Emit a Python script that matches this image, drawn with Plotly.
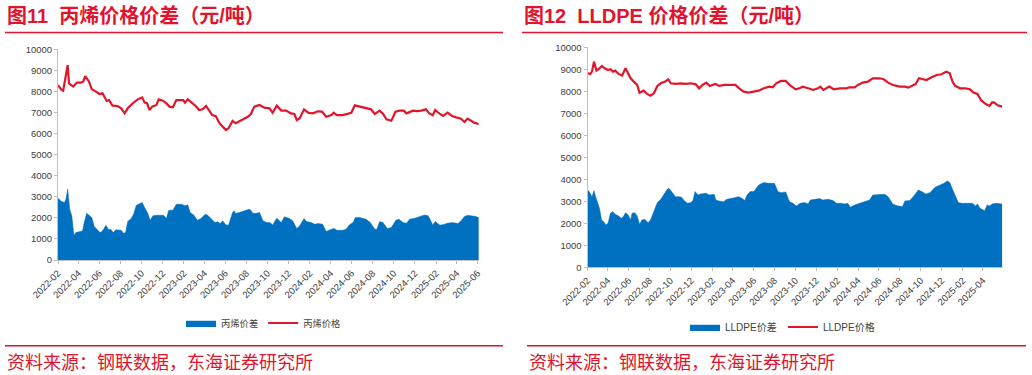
import plotly.graph_objects as go

# ---------------- data ----------------
# Figure 11: propylene price and spread (yuan/ton)
L_price_dates = [
    "2022-02-01", "2022-02-10", "2022-02-16", "2022-02-22", "2022-03-01", "2022-03-05", "2022-03-17",
    "2022-03-28", "2022-04-08", "2022-04-15", "2022-04-21", "2022-05-02", "2022-05-10", "2022-05-22",
    "2022-06-01", "2022-06-10", "2022-06-22", "2022-06-29", "2022-07-09", "2022-07-24", "2022-08-03",
    "2022-08-13", "2022-08-22", "2022-09-06", "2022-09-20", "2022-10-03", "2022-10-10", "2022-10-17",
    "2022-10-24", "2022-11-01", "2022-11-13", "2022-11-20", "2022-12-02", "2022-12-12", "2022-12-21",
    "2022-12-31", "2023-01-10", "2023-01-30", "2023-02-04", "2023-02-12", "2023-02-26", "2023-03-07",
    "2023-03-17", "2023-03-27", "2023-04-06", "2023-04-15", "2023-04-24", "2023-05-04", "2023-05-14",
    "2023-05-24", "2023-06-03", "2023-06-10", "2023-06-22", "2023-07-01", "2023-07-11", "2023-07-21",
    "2023-08-05", "2023-08-14", "2023-08-24", "2023-09-08", "2023-09-22", "2023-10-07", "2023-10-16",
    "2023-10-28", "2023-11-10", "2023-11-24", "2023-12-08", "2023-12-18", "2023-12-25", "2024-01-02",
    "2024-01-15", "2024-01-27", "2024-02-10", "2024-02-24", "2024-03-07", "2024-03-19", "2024-04-03",
    "2024-04-10", "2024-04-19", "2024-05-06", "2024-05-21", "2024-05-31", "2024-06-10", "2024-06-24",
    "2024-07-13", "2024-07-27", "2024-08-07", "2024-08-21", "2024-08-31", "2024-09-10", "2024-09-24",
    "2024-10-06", "2024-10-18", "2024-10-30", "2024-11-07", "2024-11-26", "2024-12-06", "2024-12-20",
    "2025-01-02", "2025-01-12", "2025-01-22", "2025-01-29", "2025-02-12", "2025-02-21", "2025-03-06",
    "2025-03-19", "2025-03-31", "2025-04-14", "2025-04-24", "2025-05-03", "2025-05-13", "2025-05-22",
    "2025-06-04",
]
L_price = [
    8300, 8100, 8040, 8700, 9256, 8385, 8230,
    8420, 8420, 8460, 8730, 8460, 8100, 7990,
    7880, 7910, 7550, 7590, 7325, 7310, 7200,
    6960, 7200, 7440, 7625, 7720, 7470, 7440,
    7120, 7280, 7360, 7625, 7560, 7440, 7280,
    7250, 7590, 7590, 7470, 7625, 7440, 7310,
    7120, 7150, 7310, 7120, 6880, 6830, 6520,
    6330, 6170, 6250, 6600, 6490, 6570, 6680,
    6800, 6930, 7280, 7360, 7230, 7200, 6990,
    7325, 7090, 7090, 6960, 6930, 6640, 6720,
    7150, 6990, 6960, 7055, 7040, 6800, 6880,
    6990, 6880, 6880, 6930, 6990, 7340, 7280,
    7230, 7150, 6930, 7090, 6930, 6680, 6610,
    7040, 7090, 7090, 6960, 7090, 7070, 7090,
    7150, 6960, 6870, 7120, 6930, 6834, 6990,
    6834, 6770, 6710, 6550, 6710, 6610, 6520,
    6455,
]
L_spread_dates = [
    "2022-02-01", "2022-02-11", "2022-02-20", "2022-02-24", "2022-03-01", "2022-03-07", "2022-03-13",
    "2022-03-19", "2022-03-25", "2022-04-04", "2022-04-13", "2022-04-18", "2022-04-25", "2022-05-02",
    "2022-05-10", "2022-05-17", "2022-05-27", "2022-06-03", "2022-06-10", "2022-06-20", "2022-06-28",
    "2022-07-04", "2022-07-11", "2022-07-19", "2022-08-03", "2022-08-10", "2022-08-16", "2022-08-22",
    "2022-09-01", "2022-09-08", "2022-09-16", "2022-09-25", "2022-10-03", "2022-10-10", "2022-10-19",
    "2022-10-26", "2022-11-03", "2022-11-13", "2022-11-22", "2022-12-04", "2022-12-12", "2022-12-19",
    "2022-12-31", "2023-01-10", "2023-01-25", "2023-02-04", "2023-02-12", "2023-02-19", "2023-03-02",
    "2023-03-12", "2023-03-22", "2023-04-04", "2023-04-10", "2023-04-24", "2023-05-02", "2023-05-09",
    "2023-05-17", "2023-05-24", "2023-06-03", "2023-06-10", "2023-06-22", "2023-06-26", "2023-07-01",
    "2023-07-11", "2023-07-25", "2023-08-09", "2023-08-14", "2023-08-19", "2023-08-29", "2023-09-08",
    "2023-09-18", "2023-09-29", "2023-10-08", "2023-10-16", "2023-10-28", "2023-11-10", "2023-11-19",
    "2023-12-04", "2023-12-13", "2023-12-25", "2024-01-02", "2024-01-15", "2024-01-22", "2024-02-05",
    "2024-02-15", "2024-02-24", "2024-03-09", "2024-03-19", "2024-04-03", "2024-04-12", "2024-04-19",
    "2024-05-06", "2024-05-16", "2024-05-25", "2024-06-05", "2024-06-12", "2024-06-24", "2024-07-13",
    "2024-07-25", "2024-08-07", "2024-08-13", "2024-08-21", "2024-08-31", "2024-09-12", "2024-09-24",
    "2024-10-07", "2024-10-16", "2024-10-28", "2024-11-07", "2024-11-16", "2024-12-01", "2024-12-15",
    "2024-12-29", "2025-01-09", "2025-01-22", "2025-01-29", "2025-02-12", "2025-02-25", "2025-03-06",
    "2025-03-20", "2025-04-05", "2025-04-14", "2025-04-24", "2025-05-03", "2025-05-18", "2025-05-27",
    "2025-06-04",
]
L_spread = [
    2936, 2777, 2730, 2890, 3365, 2412, 2095,
    1175, 1300, 1350, 1380, 1777, 2220, 2125,
    2015, 1587, 1430, 1300, 1380, 1650, 1430,
    1460, 1300, 1430, 1415, 1270, 1300, 1825,
    1968, 2175, 2600, 2680, 2730, 2490, 2220,
    1888, 2095, 2125, 2140, 2125, 1968, 2365,
    2365, 2650, 2650, 2570, 2620, 2255, 2125,
    1888, 1968, 2175, 2140, 1936, 1777, 1810,
    1730, 1857, 1666, 1650, 2255, 2333, 2205,
    2255, 2333, 2412, 2365, 2220, 2220, 2255,
    1857, 1777, 1777, 1666, 1984, 1777, 2047,
    1968, 1857, 1492, 1619, 1968, 1825, 1777,
    1698, 1730, 1698, 1350, 1460, 1492, 1412,
    1412, 1460, 1666, 1777, 2015, 2015, 1936,
    1777, 1460, 1460, 1825, 1777, 1492, 1539,
    1888, 1936, 1777, 1746, 1936, 1984, 2047,
    2140, 2095, 1666, 1825, 1650, 1698, 1746,
    1777, 1730, 1857, 2063, 2125, 2095, 2063,
    2015,
]

# Figure 12: LLDPE price and spread (yuan/ton)
R_price_dates = [
    "2022-02-01", "2022-02-09", "2022-02-14", "2022-02-20", "2022-02-27", "2022-03-05", "2022-03-15",
    "2022-03-23", "2022-04-02", "2022-04-09", "2022-04-16", "2022-04-23", "2022-05-03", "2022-05-13",
    "2022-05-23", "2022-05-31", "2022-06-07", "2022-06-16", "2022-06-26", "2022-07-03", "2022-07-15",
    "2022-07-25", "2022-08-04", "2022-08-14", "2022-08-24", "2022-09-03", "2022-09-16", "2022-09-25",
    "2022-10-02", "2022-10-16", "2022-10-31", "2022-11-15", "2022-11-30", "2022-12-14", "2022-12-24",
    "2023-01-03", "2023-01-14", "2023-01-24", "2023-02-09", "2023-02-21", "2023-03-08", "2023-03-25",
    "2023-04-09", "2023-04-20", "2023-05-03", "2023-05-17", "2023-06-02", "2023-06-16", "2023-07-01",
    "2023-07-17", "2023-07-27", "2023-08-06", "2023-08-20", "2023-09-03", "2023-09-14", "2023-10-02",
    "2023-10-13", "2023-10-23", "2023-11-07", "2023-11-22", "2023-12-06", "2023-12-13", "2023-12-22",
    "2024-01-08", "2024-01-21", "2024-02-08", "2024-02-27", "2024-03-07", "2024-03-22", "2024-04-01",
    "2024-04-15", "2024-04-30", "2024-05-14", "2024-06-03", "2024-06-15", "2024-06-28", "2024-07-12",
    "2024-08-01", "2024-08-16", "2024-08-26", "2024-09-10", "2024-09-16", "2024-09-26", "2024-10-06",
    "2024-10-18", "2024-11-02", "2024-11-17", "2024-12-01", "2024-12-15", "2024-12-25", "2025-01-02",
    "2025-01-09", "2025-01-24", "2025-02-08", "2025-02-22", "2025-03-04", "2025-03-16", "2025-03-26",
    "2025-04-09", "2025-04-20", "2025-04-28", "2025-05-04", "2025-05-14", "2025-05-27",
]
R_price = [
    8818, 8788, 8894, 9349, 8940, 9000, 9152,
    9045, 8970, 9000, 8894, 8940, 8788, 8712,
    9045, 8818, 8591, 8440, 8288, 7940, 8030,
    7879, 7803, 7909, 8243, 8364, 8440, 8546,
    8364, 8334, 8364, 8334, 8364, 8318, 8137,
    8288, 8394, 8243, 8334, 8243, 8288, 8288,
    8288, 8137, 7985, 7940, 7985, 8030, 8137,
    8212, 8182, 8364, 8470, 8470, 8288, 8091,
    8137, 8212, 8137, 8061, 8137, 8212, 8061,
    8212, 8091, 8137, 8137, 8182, 8182, 8288,
    8394, 8440, 8591, 8591, 8546, 8394, 8288,
    8212, 8212, 8167, 8288, 8318, 8591, 8546,
    8515, 8637, 8743, 8773, 8894, 8818, 8440,
    8258, 8137, 8137, 8091, 7940, 7879, 7606,
    7424, 7334, 7500, 7485, 7364, 7303,
]
R_spread_dates = [
    "2022-02-01", "2022-02-06", "2022-02-14", "2022-02-20", "2022-02-24", "2022-03-04", "2022-03-08",
    "2022-03-14", "2022-03-20", "2022-03-27", "2022-04-02", "2022-04-09", "2022-04-16", "2022-04-23",
    "2022-05-03", "2022-05-11", "2022-05-18", "2022-05-23", "2022-05-31", "2022-06-07", "2022-06-11",
    "2022-06-19", "2022-06-26", "2022-07-03", "2022-07-10", "2022-07-18", "2022-07-28", "2022-08-04",
    "2022-08-14", "2022-08-24", "2022-09-03", "2022-09-13", "2022-09-22", "2022-09-27", "2022-10-07",
    "2022-10-16", "2022-10-26", "2022-11-03", "2022-11-10", "2022-11-20", "2022-11-30", "2022-12-06",
    "2022-12-12", "2022-12-21", "2022-12-28", "2023-01-05", "2023-01-14", "2023-01-22", "2023-01-30",
    "2023-02-06", "2023-02-11", "2023-02-20", "2023-03-05", "2023-03-15", "2023-03-30", "2023-04-09",
    "2023-04-18", "2023-04-28", "2023-05-06", "2023-05-13", "2023-05-22", "2023-06-02", "2023-06-08",
    "2023-06-16", "2023-07-01", "2023-07-15", "2023-08-01", "2023-08-11", "2023-08-20", "2023-09-03",
    "2023-09-14", "2023-09-24", "2023-10-04", "2023-10-15", "2023-10-28", "2023-11-07", "2023-11-14",
    "2023-11-26", "2023-12-11", "2023-12-20", "2024-01-05", "2024-01-19", "2024-01-29", "2024-02-13",
    "2024-02-22", "2024-03-02", "2024-03-10", "2024-03-22", "2024-04-06", "2024-04-20", "2024-05-05",
    "2024-05-14", "2024-05-24", "2024-06-08", "2024-06-18", "2024-06-28", "2024-07-12", "2024-07-27",
    "2024-08-09", "2024-08-16", "2024-08-30", "2024-09-11", "2024-09-24", "2024-10-04", "2024-10-16",
    "2024-10-28", "2024-11-12", "2024-11-27", "2024-12-08", "2024-12-18", "2024-12-25", "2025-01-02",
    "2025-01-12", "2025-01-19", "2025-01-29", "2025-02-13", "2025-02-22", "2025-03-02", "2025-03-10",
    "2025-03-16", "2025-03-23", "2025-04-06", "2025-04-13", "2025-04-20", "2025-04-28", "2025-05-09",
    "2025-05-27",
]
R_spread = [
    3515, 3440, 3212, 3485, 3243, 2879, 2682,
    2152, 2076, 1925, 2000, 2455, 2530, 2410,
    2334, 2228, 2334, 2485, 2379, 2152, 2455,
    2485, 2334, 1955, 2152, 2182, 2030, 2152,
    2530, 2940, 3091, 3364, 3546, 3591, 3364,
    3212, 3212, 3182, 3031, 2910, 2940, 3031,
    3440, 3288, 3334, 3364, 3364, 3288, 3288,
    3318, 3061, 3015, 2985, 3091, 3137, 3182,
    3212, 3137, 3031, 3288, 3440, 3440, 3591,
    3743, 3849, 3818, 3818, 3440, 3394, 3424,
    2985, 2910, 2788, 2910, 2940, 2879, 3061,
    3091, 3122, 3061, 3091, 3031, 2910, 2910,
    2879, 2910, 2728, 2834, 2910, 2985, 3061,
    3288, 3303, 3334, 3318, 3212, 2864, 2788,
    2758, 3015, 3031, 3243, 3515, 3440, 3334,
    3394, 3637, 3743, 3818, 3925, 3849, 3546,
    3182, 2940, 2910, 2910, 2879, 2910, 2788,
    2879, 2682, 2576, 2834, 2788, 2879, 2910,
    2879,
]

title_left = "图11  丙烯价格价差（元/吨）"
title_right = "图12  LLDPE 价格价差（元/吨）"
source_text = "资料来源：钢联数据，东海证券研究所"
names_left = ["丙烯价差", "丙烯价格"]
names_right = ["LLDPE价差", "LLDPE价格"]
y_ticks = list(range(0, 10001, 1000))
y_ticklabels = [str(v) for v in y_ticks]

# ---------------- style ----------------
W, H = 1032, 375
RED = "#E2142D"
LINE_RED = "#E0162B"
BLUE = "#0070C0"
AX = "#BFBFBF"
TXT = "#404040"
FONT = "Liberation Sans, Arial, Noto Sans CJK SC, sans-serif"
CJK = "Noto Sans CJK SC, sans-serif"

def px_x(p):
    return p / W

def px_y(p):
    return 1 - p / H

fig = go.Figure()

fig.add_trace(go.Scatter(x=L_spread_dates, y=L_spread, name=names_left[0], mode="lines",
                         line=dict(color=BLUE, width=0.5), fill="tozeroy", fillcolor=BLUE,
                         xaxis="x", yaxis="y", legend="legend"))
fig.add_trace(go.Scatter(x=L_price_dates, y=L_price, name=names_left[1], mode="lines",
                         line=dict(color=LINE_RED, width=2.2), xaxis="x", yaxis="y", legend="legend"))
fig.add_trace(go.Scatter(x=R_spread_dates, y=R_spread, name=names_right[0], mode="lines",
                         line=dict(color=BLUE, width=0.5), fill="tozeroy", fillcolor=BLUE,
                         xaxis="x2", yaxis="y2", legend="legend2"))
fig.add_trace(go.Scatter(x=R_price_dates, y=R_price, name=names_right[1], mode="lines",
                         line=dict(color=LINE_RED, width=2.2), xaxis="x2", yaxis="y2", legend="legend2"))

xcommon = dict(type="date", dtick="M2", tick0="2022-02-01", tickformat="%Y-%m", tickangle=-45,
               showline=True, linecolor=AX, linewidth=1, ticks="outside", ticklen=3, tickcolor=AX,
               showgrid=False, zeroline=False, tickfont=dict(family=FONT, size=9.5, color=TXT),
               fixedrange=True, automargin=False)
ycommon = dict(range=[0, 10000], tickmode="array", tickvals=y_ticks, ticktext=y_ticklabels,
               showline=True, linecolor=AX, linewidth=1,
               ticks="outside", ticklen=3, tickcolor=AX, showgrid=False, zeroline=False,
               tickfont=dict(family=FONT, size=9.5, color=TXT), fixedrange=True, automargin=False)

legcommon = dict(orientation="h", xanchor="left", yanchor="middle", bgcolor="rgba(0,0,0,0)",
                 itemwidth=30, tracegroupgap=0)

fig.update_layout(
    template="none",
    width=W, height=H, margin=dict(l=0, r=0, t=0, b=0, pad=0, autoexpand=False),
    paper_bgcolor="white", plot_bgcolor="white",
    xaxis=dict(xcommon, domain=[px_x(58), px_x(479)], range=["2022-02-01", "2025-06-05"], anchor="y"),
    yaxis=dict(ycommon, domain=[px_y(260), px_y(49.3)], anchor="x"),
    xaxis2=dict(xcommon, domain=[px_x(587.5), px_x(1002.5)], range=["2022-02-01", "2025-05-28"], anchor="y2"),
    yaxis2=dict(ycommon, domain=[px_y(267.3), px_y(47.3)], anchor="x2"),
    legend=dict(legcommon, x=px_x(181), y=px_y(323),
                font=dict(family=FONT, size=9.3, color=TXT)),
    legend2=dict(legcommon, x=px_x(685), y=px_y(327), entrywidth=53, entrywidthmode="pixels",
                 font=dict(family=FONT, size=10, color=TXT)),
    showlegend=True,
)

# titles
for xp, txt in [(5, title_left), (522, title_right)]:
    fig.add_annotation(x=px_x(xp), y=px_y(16), xref="paper", yref="paper", text="<b>" + txt + "</b>",
                       showarrow=False, xanchor="left", yanchor="middle",
                       font=dict(family=FONT, size=20, color=RED))
# source notes
for xp in [5, 527]:
    fig.add_annotation(x=px_x(xp), y=px_y(361), xref="paper", yref="paper", text=source_text,
                       showarrow=False, xanchor="left", yanchor="middle",
                       font=dict(family=CJK, size=18, color=RED))
# decorative rules
for x0, x1 in [(5, 503), (522, 1027)]:
    fig.add_shape(type="line", xref="paper", yref="paper", x0=px_x(x0), x1=px_x(x1),
                  y0=px_y(32.5), y1=px_y(32.5), line=dict(color=RED, width=1.6))
for x0, x1 in [(5, 503), (527, 1026)]:
    fig.add_shape(type="line", xref="paper", yref="paper", x0=px_x(x0), x1=px_x(x1),
                  y0=px_y(345.7), y1=px_y(345.7), line=dict(color=RED, width=1.6))

# remove the browser's default 8px body margin so the figure sits at the page origin
fig.write_html("out.html", config={"displayModeBar": False},
               post_script="document.body.style.margin='0px';")
